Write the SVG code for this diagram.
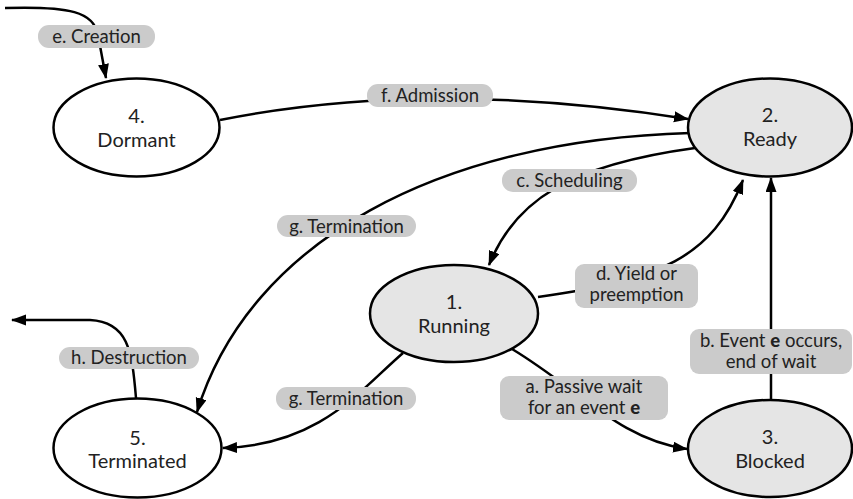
<svg xmlns="http://www.w3.org/2000/svg" width="853" height="499" viewBox="0 0 853 499">
  <defs>
    <marker id="arrow" markerUnits="userSpaceOnUse" markerWidth="16" markerHeight="12" refX="14" refY="5.5" orient="auto">
      <path d="M0,0 L15,5.5 L0,11 z" fill="#000"/>
    </marker>
    <style>
      .edge { fill: none; stroke: #000; stroke-width: 2.5; }
      .arr { marker-end: url(#arrow); }
      .node { stroke: #000; stroke-width: 2.5; }
      .white { fill: #fff; }
      .grey { fill: #e5e5e5; }
      .ntext { font-family: Lato, "Open Sans", sans-serif; font-size: 20px; fill: #222; text-anchor: middle; }
      .pill { fill: #cbcbcb; }
      .ltext { font-family: Lato, "Open Sans", sans-serif; font-size: 18.5px; fill: #222; text-anchor: middle; }
      .em { font-weight: 900; }
    </style>
  </defs>

  <rect width="853" height="499" fill="#fff"/>

  <!-- transitions -->
  <g id="connectors">
    <!-- e. creation -->
    <path class="edge arr" d="M 5 8 C 70 6, 94 12, 98 35 L 106 78"/>
    <!-- f. admission -->
    <path class="edge arr" d="M 220 120 Q 430 78 688 119"/>
    <!-- g. termination from ready -->
    <path class="edge arr" d="M 690 133 C 440 140, 250 240, 197 412"/>
    <!-- c. scheduling -->
    <path class="edge arr" d="M 695 148 C 570 165, 515 200, 489 265"/>
    <!-- d. yield or preemption -->
    <path class="edge arr" d="M 538 297 C 660 280, 712 258, 743 180"/>
    <!-- b. event occurs -->
    <path class="edge arr" d="M 771 400 L 771 178"/>
    <!-- a. passive wait -->
    <path class="edge arr" d="M 512 349 C 580 390, 620 440, 687 449"/>
    <!-- g. termination from running -->
    <path class="edge arr" d="M 403 353 C 360 390, 320 445, 223 448"/>
    <!-- h. destruction -->
    <path class="edge arr" d="M 136 398 C 132 350, 128 322, 90 320 L 12 320"/>

    <!-- transition labels -->
    <g id="label-e">
      <rect class="pill" x="38" y="25" width="117" height="23" rx="11"/>
      <text class="ltext" x="96.5" y="42.5">e. Creation</text>
    </g>
    <g id="label-f">
      <rect class="pill" x="367" y="84" width="126" height="23" rx="11"/>
      <text class="ltext" x="430" y="101.5">f. Admission</text>
    </g>
    <g id="label-c">
      <rect class="pill" x="502" y="169" width="135" height="23" rx="11"/>
      <text class="ltext" x="569.5" y="187">c. Scheduling</text>
    </g>
    <g id="label-g1">
      <rect class="pill" x="277" y="215" width="139" height="22" rx="11"/>
      <text class="ltext" x="346.5" y="232.5">g. Termination</text>
    </g>
    <g id="label-d">
      <rect class="pill" x="575" y="264" width="123" height="44" rx="9"/>
      <text class="ltext" x="636.5" y="280">d. Yield or</text>
      <text class="ltext" x="636.5" y="301">preemption</text>
    </g>
    <g id="label-b">
      <rect class="pill" x="690" y="329" width="162" height="45" rx="9"/>
      <text class="ltext" x="771" y="347">b. Event <tspan class="em">e</tspan> occurs,</text>
      <text class="ltext" x="771" y="368">end of wait</text>
    </g>
    <g id="label-a">
      <rect class="pill" x="500" y="376" width="168" height="44" rx="9"/>
      <text class="ltext" x="584" y="393">a. Passive wait</text>
      <text class="ltext" x="584" y="414">for an event <tspan class="em">e</tspan></text>
    </g>
    <g id="label-g2">
      <rect class="pill" x="276" y="387" width="140" height="23" rx="11"/>
      <text class="ltext" x="346" y="404.5">g. Termination</text>
    </g>
    <g id="label-h">
      <rect class="pill" x="59" y="347" width="140" height="22" rx="11"/>
      <text class="ltext" x="129" y="364">h. Destruction</text>
    </g>
  </g>

  <!-- states -->
  <g id="dormant">
    <ellipse class="node white" cx="136.5" cy="127.5" rx="83" ry="49"/>
    <text class="ntext" x="136.5" y="123">4.</text>
    <text class="ntext" x="136.5" y="147">Dormant</text>
  </g>
  <g id="ready">
    <ellipse class="node grey" cx="770" cy="127.5" rx="82" ry="49"/>
    <text class="ntext" x="770" y="122">2.</text>
    <text class="ntext" x="770" y="146">Ready</text>
  </g>
  <g id="running">
    <ellipse class="node grey" cx="454" cy="313.5" rx="84" ry="48.5"/>
    <text class="ntext" x="454" y="309">1.</text>
    <text class="ntext" x="454" y="333">Running</text>
  </g>
  <g id="blocked">
    <ellipse class="node grey" cx="770" cy="448.5" rx="82" ry="48.5"/>
    <text class="ntext" x="770" y="444">3.</text>
    <text class="ntext" x="770" y="468">Blocked</text>
  </g>
  <g id="terminated">
    <ellipse class="node white" cx="137.5" cy="448" rx="84" ry="49.5"/>
    <text class="ntext" x="137.5" y="445">5.</text>
    <text class="ntext" x="137.5" y="468">Terminated</text>
  </g>
</svg>
